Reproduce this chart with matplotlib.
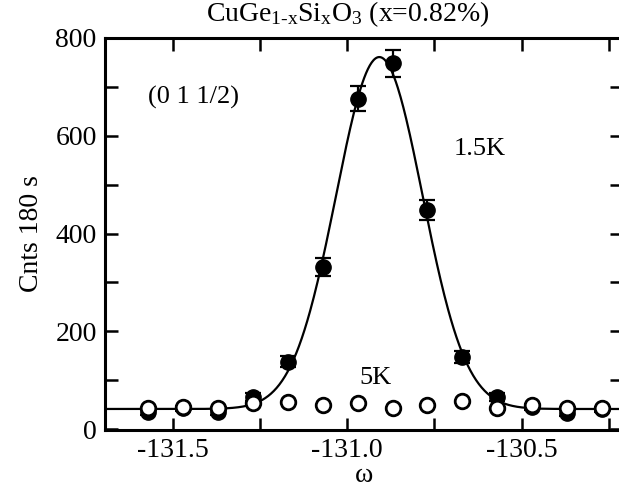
import numpy as np
import matplotlib
matplotlib.use("Agg")
import matplotlib.pyplot as plt
from matplotlib.ticker import MultipleLocator

plt.rcParams["font.family"] = ["Liberation Serif", "DejaVu Serif"]
plt.rcParams["mathtext.fontset"] = "custom"
plt.rcParams["mathtext.rm"] = "Liberation Serif"
plt.rcParams["mathtext.it"] = "Liberation Serif"

# ---- data ----
omega = [-131.57, -131.47, -131.37, -131.27, -131.17, -131.07, -130.97,
         -130.87, -130.77, -130.67, -130.57, -130.47, -130.37, -130.27]
cnts_15K = [35, 42, 35, 66, 138, 332, 676, 748, 448, 147, 66, 45, 32, 40]
err_15K = [6, 6, 6, 8, 12, 18, 26, 27, 21, 12, 8, 7, 6, 6]
cnts_5K = [42, 46, 44, 53, 56, 49, 53, 42, 49, 58, 42, 49, 42, 44]

# gaussian fit to the 1.5K scan
fit_center = -130.908
fit_sigma = 0.124
fit_amp = 720
fit_bg = 41

# ---- figure ----
W, H = 619, 487
fig = plt.figure(figsize=(W / 100, H / 100), dpi=100)
ax = fig.add_axes([105 / W, (H - 430) / H, (622 - 105) / W, (430 - 38) / H])

xf = np.linspace(-131.75, -130.15, 600)
yf = fit_bg + fit_amp * np.exp(-(xf - fit_center) ** 2 / (2 * fit_sigma ** 2))
ax.plot(xf, yf, color="black", lw=1.6, zorder=2)

ax.errorbar(omega, cnts_15K, yerr=err_15K, fmt="o", color="black",
            ms=11, capsize=6, elinewidth=1.6, capthick=1.6, zorder=3)
ax.plot(omega, cnts_5K, "o", mfc="white", mec="black", mew=2.0, ms=10.5,
        zorder=4)

ax.set_xlim(-131.694, -130.2126)
ax.set_ylim(-2, 800)
ax.xaxis.set_major_locator(MultipleLocator(0.5))
ax.xaxis.set_minor_locator(MultipleLocator(0.25))
ax.yaxis.set_major_locator(MultipleLocator(200))
ax.yaxis.set_minor_locator(MultipleLocator(100))
ax.xaxis.set_major_formatter(plt.FuncFormatter(lambda v, p: f"{v:.1f}"))
ax.tick_params(which="both", direction="in", top=True, right=True,
               length=9, width=1.8, labelsize=20, pad=6)
for s in ax.spines.values():
    s.set_linewidth(2.2)
ax.spines["right"].set_visible(False)

ax.set_ylabel("Cnts 180 s", fontsize=20, labelpad=8)
ax.set_xlabel("ω", fontsize=20, labelpad=0)

fig.text(348 / W, 1 - 14 / H,
         r"CuGe$_{\rm 1\text{-}x}$Si$_{\rm x}$O$_{\rm 3}$ (x=0.82%)",
         ha="center", va="center", fontsize=20)

ax.text(-131.44, 678, "(0 1 1/2)", fontsize=19, ha="center", va="center")
ax.text(-130.62, 573, "1.5K", fontsize=19, ha="center", va="center")
ax.text(-130.92, 105, "5K", fontsize=19, ha="center", va="center")

fig.savefig("out.png", dpi=100)
